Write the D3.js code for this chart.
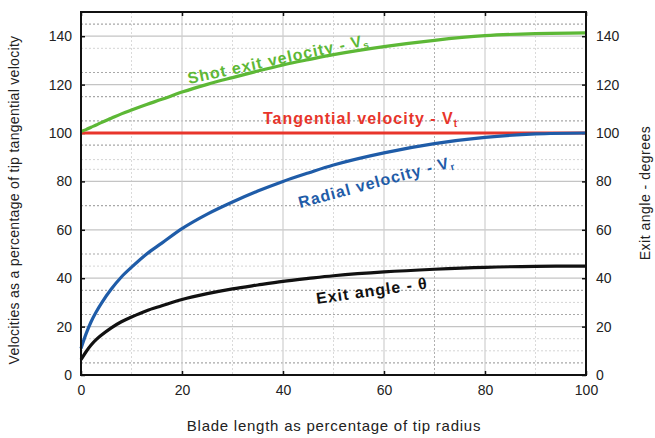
<!DOCTYPE html>
<html><head><meta charset="utf-8">
<script src="https://cdn.jsdelivr.net/npm/d3@7"></script>
<style>
html,body{margin:0;padding:0;background:#fff;}
svg{display:block;font-family:"Liberation Sans",Arial,sans-serif;}
</style></head>
<body><svg id="c" width="655" height="438"></svg>
<script>
// Blade length as percentage of tip radius
const bladeLength = [0, 1, 2, 3, 4, 6, 8, 10, 13, 16, 20, 25, 30, 35, 40, 45, 50, 60, 70, 80, 90, 100];
// Radial velocity - Vr (% of tip tangential velocity)
const radialVelocity = [11, 17, 22, 26, 29.5, 35.5, 40.5, 44.5, 50, 54.5, 60.5, 66.5, 71.5, 76, 80, 83.5, 86.8, 91.8, 95.6, 98.2, 99.6, 100];
// Shot exit velocity - Vs
const shotExitVelocity = [100.6, 101.4, 102.4, 103.3, 104.3, 106.1, 107.9, 109.5, 111.8, 113.9, 116.9, 120.1, 122.9, 125.6, 128.1, 130.3, 132.4, 135.7, 138.3, 140.2, 141.1, 141.4];
// Tangential velocity - Vt
const tangentialVelocity = [100, 100, 100, 100, 100, 100, 100, 100, 100, 100, 100, 100, 100, 100, 100, 100, 100, 100, 100, 100, 100, 100];
// Exit angle - degrees
const exitAngle = [6.3, 9.6, 12.4, 14.6, 16.4, 19.5, 22, 24, 26.6, 28.6, 31.2, 33.6, 35.6, 37.2, 38.7, 39.9, 41, 42.6, 43.7, 44.5, 44.9, 45];

const xTicks = [0, 20, 40, 60, 80, 100];
const yTicks = [0, 20, 40, 60, 80, 100, 120, 140];
const xMinorGrid = [10, 30, 50, 70, 90];
const yDottedGrid = [5, 25, 35, 50, 70, 95, 105, 115, 125, 145];
const yFaintGrid = [10, 15, 30, 45, 85, 89, 135];

const svg = d3.select("#c");
const L = 81, R = 586, T = 12, B = 375;
const x = d3.scaleLinear().domain([0, 100]).range([L, R]);
const y = d3.scaleLinear().domain([0, 150]).range([B, T]);
const yR = d3.scaleLinear().domain([0, 150]).range([B, T]);

const g = svg.append("g");
g.selectAll(".yf").data(yFaintGrid).join("line")
  .attr("x1", L).attr("x2", R).attr("y1", d => y(d)).attr("y2", d => y(d))
  .attr("stroke", "#d4d4d4").attr("stroke-width", 1).attr("stroke-dasharray", "2,2");
g.selectAll(".yd").data(yDottedGrid).join("line")
  .attr("x1", L).attr("x2", R).attr("y1", d => y(d)).attr("y2", d => y(d))
  .attr("stroke", "#a8a8a8").attr("stroke-width", 1.2).attr("stroke-dasharray", "2,2");
g.selectAll(".xd").data(xMinorGrid).join("line")
  .attr("y1", T).attr("y2", B).attr("x1", d => x(d)).attr("x2", d => x(d))
  .attr("stroke", d => d === 70 ? "#b0b0b0" : "#dadada").attr("stroke-width", 1).attr("stroke-dasharray", "2,2");
g.selectAll(".ym").data(yTicks.slice(1)).join("line")
  .attr("x1", L).attr("x2", R).attr("y1", d => y(d)).attr("y2", d => y(d))
  .attr("stroke", "#c4c4c4").attr("stroke-width", 1.2);
g.selectAll(".xm").data(xTicks.slice(1, -1)).join("line")
  .attr("y1", T).attr("y2", B).attr("x1", d => x(d)).attr("x2", d => x(d))
  .attr("stroke", "#cfcfcf").attr("stroke-width", 1.2);

const axB = d3.axisBottom(x).tickValues(xTicks).tickSize(-4).tickPadding(10);
const axL = d3.axisLeft(y).tickValues(yTicks).tickSize(-4).tickPadding(9);
const axR = d3.axisRight(yR).tickValues(yTicks).tickSize(-4).tickPadding(10);
const axT = d3.axisTop(x).tickValues(xTicks).tickSize(-4).tickFormat("");
function style(sel){
  sel.select(".domain").remove();
  sel.selectAll("line").attr("stroke", "#111").attr("stroke-width", 1.5);
  sel.selectAll("text").attr("font-size", 14).attr("fill", "#222")
    .attr("font-family", "'Liberation Sans',Arial,sans-serif");
}
svg.append("g").attr("transform", `translate(0,${B})`).call(axB).call(style);
svg.append("g").attr("transform", `translate(${L},0)`).call(axL).call(style);
svg.append("g").attr("transform", `translate(${R},0)`).call(axR).call(style);
svg.append("g").attr("transform", `translate(0,${T})`).call(axT).call(style);

const series = [
  {v: tangentialVelocity, sc: y, color: "#e8352b"},
  {v: shotExitVelocity, sc: y, color: "#5db836"},
  {v: radialVelocity, sc: y, color: "#1f5ca8"},
  {v: exitAngle, sc: yR, color: "#111111"}
];
series.forEach(s => {
  const line = d3.line().x((d, i) => x(bladeLength[i])).y(d => s.sc(d)).curve(d3.curveCatmullRom.alpha(0.5));
  svg.append("path").datum(s.v).attr("d", line)
    .attr("fill", "none").attr("stroke", s.color).attr("stroke-width", 3.2);
});

svg.append("rect").attr("x", L).attr("y", T).attr("width", R - L).attr("height", B - T)
  .attr("fill", "none").attr("stroke", "#111").attr("stroke-width", 2);

function label(txt, sub, px, py, ang, color){
  const t = svg.append("text").attr("transform", `translate(${px},${py}) rotate(${ang})`)
    .attr("font-size", 16).attr("font-weight", "bold").attr("letter-spacing", 1).attr("fill", color);
  t.append("tspan").text(txt);
  t.append("tspan").attr("font-size", 10).attr("dy", 3).text(sub);
}
label("Shot exit velocity - V", "s", 189, 84, -12.3, "#5db836");
label("Tangential velocity - V", "t", 263, 124, 0, "#e8352b");
label("Radial velocity - V", "r", 300, 208, -15, "#1f5ca8");
label("Exit angle - θ", "", 317, 304, -8, "#111");

svg.append("text").attr("x", 334).attr("y", 431).attr("text-anchor", "middle")
  .attr("font-size", 15).attr("letter-spacing", 0.75).attr("fill", "#222").text("Blade length as percentage of tip radius");
svg.append("text").attr("transform", `translate(19,200) rotate(-90)`).attr("text-anchor", "middle")
  .attr("font-size", 14).attr("letter-spacing", 0.3).attr("fill", "#222").text("Velocities as a percentage of tip tangential velocity");
svg.append("text").attr("transform", `translate(650,193) rotate(-90)`).attr("text-anchor", "middle")
  .attr("font-size", 14).attr("letter-spacing", 0.5).attr("fill", "#222").text("Exit angle - degrees");
</script></body></html>
